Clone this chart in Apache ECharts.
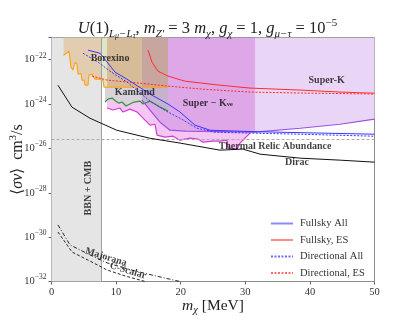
<!DOCTYPE html>
<html><head><meta charset="utf-8">
<script src="https://cdn.jsdelivr.net/npm/echarts@6/dist/echarts.min.js"></script>
<style>html,body{margin:0;padding:0;background:#fff}#c{width:415px;height:323px}</style>
</head><body><div id="c"></div>
<script>
// All y values are log10(<sigma v> in cm^3/s); x values are m_chi in MeV
const yTop = -21, yBottom = -32;
const bbnX = 7.74;
const thermalY = -25.6;

const borexinoX = [1.86,2.71,3.02,3.33,3.64,3.95,4.10,4.57,4.72,5.03,5.19,5.65,5.80,6.27,6.73,7.35,7.97,8.13,18.03];
const borexinoY = [-21.80,-21.62,-22.34,-22.47,-22.11,-22.20,-22.65,-22.61,-22.92,-22.92,-23.15,-23.15,-22.70,-22.65,-22.88,-22.88,-22.92,-23.24,-23.24];

const kamlandX = [8.28,8.75,9.37,9.98,10.45,10.91,11.53,12.15,12.77,13.70,14.16,15.25,16.33,16.80,18.03];
const kamlandY = [-23.91,-23.78,-23.73,-23.87,-23.96,-23.91,-24.09,-24.00,-23.91,-23.87,-24.00,-23.87,-24.05,-24.14,-24.32];

const pinkX = [8.59,9.52,10.60,11.07,12.15,13.24,13.70,15.25,16.02,16.33,17.57,18.81,19.89,21.44,22.68,23.45,25.00,26.08,27.17,27.32,28.72,29.18,30.73];
const pinkY = [-24.18,-24.27,-24.18,-24.36,-24.23,-24.36,-24.50,-24.95,-24.91,-25.40,-25.49,-25.45,-25.63,-25.54,-25.58,-25.72,-25.67,-25.67,-25.63,-25.99,-26.03,-25.76,-25.31];

const nueX = [14.0,15.25,16.80,18.34,20.67,26.08,31.52];
const nueY = [-23.82,-24.27,-24.82,-25.18,-25.22,-25.24,-25.27];

const superKX = [31.52,38.5,44.66,50];
const superKY = [-25.27,-25.09,-24.91,-24.68];

const fullAllX = [5.65,7.51,8.13,9.83,11.69,15.25,18.03,19.89,22.21,24.54,30.73,38.47,50];
const fullAllY = [-21.57,-21.71,-21.93,-22.56,-22.88,-23.55,-24.00,-24.36,-24.95,-25.18,-25.24,-25.29,-25.36];
const dirAllX = [4.88,7.20,9.06,11.69,15.25,18.03,19.89,22.52,25.31,30.73,38.47,50];
const dirAllY = [-21.71,-22.11,-22.52,-23.01,-23.87,-24.36,-24.64,-25.09,-25.27,-25.31,-25.36,-25.45];
const fullESX = [14.94,15.56,16.49,18.03,20.67,26.08,30.73,38.47,44.66,50];
const fullESY = [-21.57,-22.11,-22.52,-22.74,-22.97,-23.15,-23.28,-23.37,-23.46,-23.51];
const dirESX = [6.27,8.59,13.70,18.03,23.45,30.73,40.02,50];
const dirESY = [-22.74,-22.92,-23.06,-23.19,-23.33,-23.46,-23.51,-23.55];

const diracX = [1.0,3.17,5.96,10.1,15.2,19.9,26.1,29.6,32.3,38.5,44.7,50];
const diracY = [-23.15,-24.14,-24.64,-25.18,-25.54,-25.76,-26.08,-26.03,-26.26,-26.44,-26.53,-26.62];
const majoranaX = [1.0,1.93,2.86,5.96,8.6,12.2,16.0,19.9];
const majoranaY = [-29.45,-29.9,-30.35,-30.8,-31.16,-31.47,-31.74,-32.0];
const cscalarX = [1.0,3.17,5.96,8.6,11.4,14.5];
const cscalarY = [-29.77,-30.67,-31.08,-31.48,-31.75,-32.0];

const xTicks = [0,10,20,30,40,50];
const yTickExps = [-32,-30,-28,-26,-24,-22];
const legendNames = ['Fullsky All','Fullsky, ES','Directional All','Directional, ES'];

// text annotations: [x, y, text, rotation]
const notes = [
  [9.06,-21.93,'Borexino',0],
  [12.9,-23.46,'Kamland',0],
  [24.2,-23.96,'Super − K{s|νe}',0],
  [42.6,-22.92,'Super-K',0],
  [34.6,-25.92,'Thermal Relic Abundance',0],
  [38.0,-26.62,'Dirac',0],
  [5.65,-27.79,'BBN + CMB',90],
  [8.44,-30.90,'Majorana',-17],
  [11.84,-31.52,'C-Scalar',-17]
];

const FONT = 'Liberation Serif';
const SOLID_ICON = 'path://M0,0H22V2H0Z';
const DASH_ICON = 'path://M0,0H2V2H0Z M3.5,0H5.5V2H3.5Z M7,0H9V2H7Z M10.5,0H12.5V2H10.5Z M14,0H16V2H14Z M17.5,0H19.5V2H17.5Z M21,0H22V2H21Z';

function pairs(xs, ys){ return xs.map((x,i)=>[x, ys[i]]); }
function interp(xs, ys, x){
  for (let i=0;i<xs.length-1;i++){
    if (x>=xs[i] && x<=xs[i+1]){ const t=(x-xs[i])/(xs[i+1]-xs[i]); return ys[i]+t*(ys[i+1]-ys[i]); }
  }
  return x<xs[0]?ys[0]:ys[ys.length-1];
}
function clipLine(xs, ys, x0, x1){
  const pts=[[x0, interp(xs,ys,x0)]];
  xs.forEach((x,i)=>{ if(x>x0 && x<x1) pts.push([x, ys[i]]); });
  pts.push([x1, interp(xs,ys,x1)]);
  return pts;
}
function polySeries(points, fill, z){
  return { type:'custom', silent:true, z:z, clip:true, data:[[0,0]],
    renderItem:(params, api)=>({ type:'polygon', shape:{ points: points.map(p=>api.coord(p)) }, style:{ fill: fill } }) };
}
function toTop(line){ return line.concat([[line[line.length-1][0], yTop],[line[0][0], yTop]]); }
function lineSeries(name, data, color, width, type, z){
  return { name:name, type:'line', data:data, symbol:'none', smooth:false, silent:true, z:z,
    lineStyle:{ color:color, width:width, type:type||'solid' }, itemStyle:{color:color} };
}

const series = [
  polySeries([[0,yBottom],[bbnX,yBottom],[bbnX,yTop],[0,yTop]], '#e5e5e5', 1),
  polySeries([[31.52,yTop],[50,yTop]].concat(pairs(superKX,superKY).reverse()), '#e9d6f7', 2),
  polySeries(pairs(pinkX,pinkY).concat([[30.73,-23.5],[8.59,-23.5]]), '#f4c6f4', 2),
  polySeries([[14.0,yTop],[31.52,yTop]].concat(pairs(nueX,nueY).reverse()), '#dea7e8', 3),
  polySeries(toTop(clipLine(kamlandX,kamlandY,8.28,14.0)), '#d8d2da', 4),
  polySeries(toTop(clipLine(kamlandX,kamlandY,14.0,18.03)), '#c6b2ca', 4),
  polySeries(toTop(clipLine(borexinoX,borexinoY,1.86,bbnX)), '#e3cdb1', 5),
  polySeries(toTop(clipLine(borexinoX,borexinoY,bbnX,8.6)), '#e0e5c8', 5),
  polySeries(toTop(clipLine(borexinoX,borexinoY,8.6,14.0)), '#d7bc99', 5),
  polySeries(toTop(clipLine(borexinoX,borexinoY,14.0,18.03)), '#c8a59f', 5),
  lineSeries('', [[bbnX,yBottom],[bbnX,yTop]], '#a0a0a0', 1, 'solid', 6),
  lineSeries('', pairs(borexinoX,borexinoY), '#ffa31a', 1.2, 'solid', 7),
  lineSeries('', pairs(kamlandX,kamlandY), '#2e962e', 1.2, 'solid', 7),
  lineSeries('', pairs(pinkX,pinkY), '#d23cd2', 1.2, 'solid', 7),
  lineSeries('', pairs(nueX,nueY), '#a04fe0', 1.2, 'solid', 7),
  lineSeries('', pairs(superKX,superKY), '#a04fe0', 1.2, 'solid', 7),
  lineSeries('', [[0,thermalY],[50,thermalY]], '#aaaaaa', 1, [3,2], 8),
  lineSeries('', pairs(diracX,diracY), '#111111', 1, 'solid', 8),
  lineSeries('', pairs(majoranaX,majoranaY), '#111111', 0.9, [4,2,1,2], 8),
  lineSeries('', pairs(cscalarX,cscalarY), '#111111', 0.9, [3,2], 8),
  lineSeries(legendNames[0], pairs(fullAllX,fullAllY), '#3636ff', 1, 'solid', 9),
  lineSeries(legendNames[1], pairs(fullESX,fullESY), '#ff2c2c', 1, 'solid', 9),
  lineSeries(legendNames[2], pairs(dirAllX,dirAllY), '#3636ff', 1, [2,1.5], 9),
  lineSeries(legendNames[3], pairs(dirESX,dirESY), '#ff2c2c', 1, [2,1.5], 9),
  { type:'scatter', symbolSize:0, silent:true, z:10,
    data: notes.map(n=>({ value:[n[0],n[1]], label:{ rotate:n[3], formatter:n[2] } })),
    label:{ show:true, position:'inside', color:'#111', fontFamily:FONT, fontWeight:'bold', fontSize:10,
      rich:{ s:{ fontSize:7, fontFamily:FONT, fontWeight:'bold', color:'#111', verticalAlign:'bottom', lineHeight:8 } } } }
];

const chart = echarts.init(document.getElementById('c'), null, {renderer:'canvas'});
chart.setOption({
  animation:false,
  backgroundColor:'#fff',
  title:{ text:'{i|U}(1){s|L}{ss|μ}{s|−L}{ss|τ}, {i|m}{s|Z′} = 3 {i|m}{s|χ}, {i|g}{s|χ} = 1, {i|g}{s|μ−τ} = 10{p|−5}',
    left:'center', top:13,
    textStyle:{ fontFamily:FONT, fontSize:16.5, fontWeight:'normal', color:'#222', lineHeight:22,
      rich:{ i:{fontFamily:FONT, fontStyle:'italic', fontSize:16.5, color:'#222', lineHeight:22},
             s:{fontFamily:FONT, fontStyle:'italic', fontSize:11, color:'#222', verticalAlign:'bottom', lineHeight:13},
             ss:{fontFamily:FONT, fontStyle:'italic', fontSize:8, color:'#222', verticalAlign:'bottom', lineHeight:10},
             p:{fontFamily:FONT, fontSize:11, color:'#222', verticalAlign:'top', lineHeight:13} } } },
  grid:{ left:51.5, right:40.5, top:37.5, bottom:41.5, containLabel:false, outerBoundsMode:'none',
    show:true, borderColor:'#8c8c8c', borderWidth:1, backgroundColor:'transparent' },
  legend:{ orient:'vertical', left:266, top:213, itemWidth:22, itemHeight:2, itemGap:5.5,
    data:[
      {name:legendNames[0], icon:SOLID_ICON, itemStyle:{color:'#8a8aff'}},
      {name:legendNames[1], icon:SOLID_ICON, itemStyle:{color:'#ff8a8a'}},
      {name:legendNames[2], icon:DASH_ICON, itemStyle:{color:'#6a6aff'}},
      {name:legendNames[3], icon:DASH_ICON, itemStyle:{color:'#ff6a6a'}}
    ],
    textStyle:{ fontFamily:FONT, fontSize:10.5, color:'#333', lineHeight:10, padding:[0,0,0,2] } },
  xAxis:{ type:'value', min:0, max:50, interval:10,
    name:'{i|m}{s|χ} [MeV]', nameLocation:'middle', nameGap:14, nameMoveOverlap:false,
    nameTextStyle:{ fontFamily:FONT, fontSize:15.5, color:'#222', lineHeight:20,
      rich:{ i:{fontFamily:FONT, fontStyle:'italic', fontSize:15.5, color:'#222', lineHeight:20},
             s:{fontFamily:FONT, fontStyle:'italic', fontSize:10.5, color:'#222', verticalAlign:'bottom', lineHeight:12} } },
    axisLine:{ show:false }, splitLine:{ show:false },
    axisTick:{ show:true, length:3, lineStyle:{color:'#666'} },
    axisLabel:{ fontFamily:FONT, fontSize:10.5, color:'#333', margin:5,
      formatter:v=> xTicks.indexOf(v)>=0 ? String(v) : '' } },
  yAxis:{ type:'value', min:yBottom, max:yTop, interval:2,
    name:'⟨{i|σv}⟩  cm{p|3}/s', nameLocation:'middle', nameGap:24, nameRotate:90, nameMoveOverlap:false,
    nameTextStyle:{ fontFamily:FONT, fontSize:16, color:'#222', lineHeight:20,
      rich:{ i:{fontFamily:FONT, fontStyle:'italic', fontSize:16, color:'#222', lineHeight:20},
             p:{fontFamily:FONT, fontSize:10.5, color:'#222', verticalAlign:'top', lineHeight:12} } },
    axisLine:{ show:false }, splitLine:{ show:false },
    axisTick:{ show:true, length:3, lineStyle:{color:'#666'} },
    axisLabel:{ fontFamily:FONT, fontSize:10.5, color:'#333', margin:5, lineHeight:16,
      formatter:v=> yTickExps.indexOf(v)>=0 ? '10{p|−' + Math.abs(v) + '}' : '',
      rich:{ p:{ fontFamily:FONT, fontSize:7.5, color:'#333', verticalAlign:'top', lineHeight:10 } } } },
  series: series
});
</script></body></html>
